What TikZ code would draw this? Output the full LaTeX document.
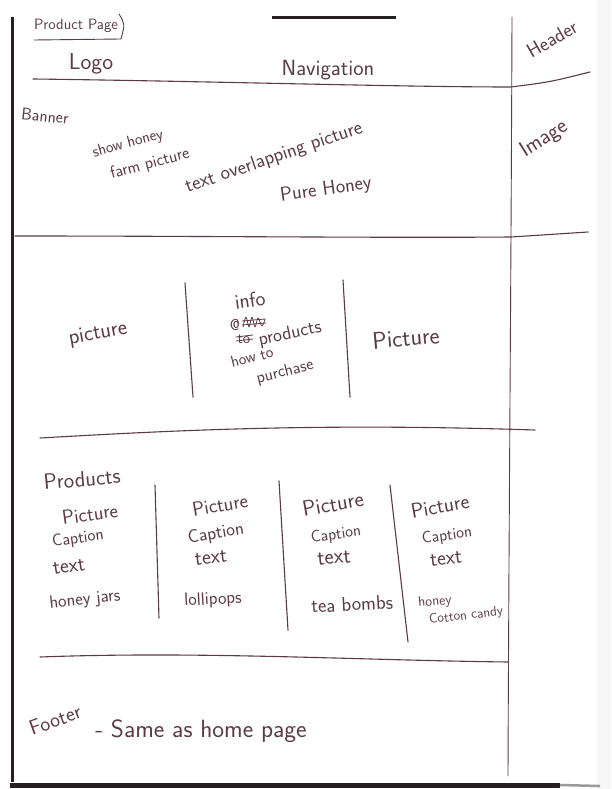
\documentclass[tikz,border=0pt]{standalone}
\usepackage{fontspec}
\definecolor{ink}{RGB}{92,58,70}
\definecolor{paperedge}{RGB}{38,30,34}
\begin{document}
\begin{tikzpicture}[x=1pt,y=-1pt,
  pen/.style={draw=ink, line width=1.1pt, line cap=round, line join=round},
  scribble/.style={draw=ink, line width=0.8pt, line cap=round, line join=round},
  sheetedge/.style={draw=paperedge, line width=3pt},
  hw/.style={text=ink, inner sep=0pt, font=\sffamily\fontsize{#1}{#1}\selectfont},
  hw/.default=16]
\useasboundingbox (0,0) rectangle (611,789);
\fill[white] (0,0) rectangle (611,789);
\fill[gray!7] (597,0) rectangle (611,789);

% edges of the scanned sheet
\coordinate (tl) at (12,17);
\coordinate (bl) at (12,782);
\coordinate (ta) at (272,18);
\coordinate (tb) at (396,18);
\coordinate (ba) at (10,785);
\coordinate (bb) at (560,785);
\coordinate (bc) at (600,786);
\draw[sheetedge] (tl) -- (bl);
\draw[sheetedge] (ta) -- (tb);
\draw[sheetedge, line width=5pt] (ba) -- (bb);
\draw[draw=paperedge!45, line width=2.5pt] (bb) -- (bc);

% page title
\node[hw=15] (title) at (76,26) {Product Page};
\coordinate (u1) at (34,40);
\coordinate (u2) at (121,39);
\coordinate (k1) at (119,14);
\draw[pen, line width=0.9pt] (u1) -- (u2);
\draw[pen, line width=0.9pt] (k1) .. controls (125,24) .. (u2);

% right-hand column divider
\coordinate (r0) at (512,17);
\coordinate (r1) at (508,776);
\draw[pen, line width=0.9pt] (r0) .. controls (511,300) and (509,500) .. (r1);

% header band
\node[hw=23] (logo) at (91,64) {Logo};
\node[hw=22] (nav) at (328,70) {Navigation};
\node[hw=20, rotate=30] (header) at (552,39) {Header};
\coordinate (h0) at (33,79);
\coordinate (h1) at (511,87);
\coordinate (h2) at (590,72);
\draw[pen] (h0) .. controls (200,81) and (400,87) .. (h1) .. controls (550,82) .. (h2);

% banner band
\node[hw=17, rotate=-6] (banner) at (45,116) {Banner};
\node[hw=16, rotate=15] (show) at (128,144) {show honey};
\node[hw=17, rotate=15] (farm) at (150,164) {farm picture};
\node[hw=20, rotate=19] (overlap) at (274,158) {text overlapping picture};
\node[hw=20, rotate=8] (pure) at (326,190) {Pure Honey};
\node[hw=22, rotate=32] (image) at (544,139) {Image};
\coordinate (b0) at (15,236);
\coordinate (b1) at (511,237);
\coordinate (b2) at (588,232);
\draw[pen] (b0) .. controls (200,236) and (380,238) .. (b1) -- (b2);

% info band
\coordinate (v1a) at (185,283);
\coordinate (v1b) at (193,397);
\coordinate (v2a) at (343,280);
\coordinate (v2b) at (350,397);
\draw[pen] (v1a) -- (v1b);
\draw[pen] (v2a) -- (v2b);
\node[hw=22, rotate=10] (picl) at (98,334) {picture};
\node[hw=24, rotate=5] (picr) at (406,338) {Picture};
\node[hw=21, rotate=8] (info) at (250,300) {info};
\node[hw=16] (at) at (235,325) {@};
\draw[scribble] plot[smooth] coordinates {(243,327) (246,317) (249,327) (252,317) (255,327) (258,318) (262,326) (265,319)};
\draw[scribble] (242,321) -- (265,319);
\draw[scribble] (242,325) -- (266,323);
\node[hw=15] (to) at (244,339) {to};
\draw[scribble] (236,337) -- (253,335);
\draw[scribble] (236,341) -- (253,339);
\node[hw=19, rotate=12] (prod) at (290,334) {products};
\node[hw=16, rotate=14] (how) at (252,357) {how to};
\node[hw=17, rotate=14] (purchase) at (285,372) {purchase};
\coordinate (i0) at (40,438);
\coordinate (i1) at (535,430);
\draw[pen] (i0) .. controls (180,430) and (320,423) .. (i1);

% products band
\node[hw=22, rotate=5] (products) at (82,479) {Products};
\coordinate (c1a) at (155,485);
\coordinate (c1b) at (159,618);
\coordinate (c2a) at (279,481);
\coordinate (c2b) at (288,630);
\coordinate (c3a) at (390,485);
\coordinate (c3b) at (408,642);
\draw[pen] (c1a) -- (c1b);
\draw[pen] (c2a) -- (c2b);
\draw[pen] (c3a) -- (c3b);

\node[hw=20, rotate=8] (p1) at (90,514) {Picture};
\node[hw=17, rotate=8] (cap1) at (78,539) {Caption};
\node[hw=21, rotate=8] (t1) at (69,567) {text};
\node[hw=18, rotate=6] (n1) at (85,600) {honey jars};

\node[hw=20, rotate=10] (p2) at (220,505) {Picture};
\node[hw=18.5, rotate=10] (cap2) at (216,534) {Caption};
\node[hw=21, rotate=5] (t2) at (211,558) {text};
\node[hw=18, rotate=3] (n2) at (213,600) {lollipops};

\node[hw=22, rotate=10] (p3) at (333,504) {Picture};
\node[hw=16.5, rotate=8] (cap3) at (336,535) {Caption};
\node[hw=22, rotate=5] (t3) at (334,558) {text};
\node[hw=20, rotate=3] (n3) at (352,604) {tea bombs};

\node[hw=21, rotate=10] (p4) at (440,506) {Picture};
\node[hw=16.5, rotate=8] (cap4) at (447,536) {Caption};
\node[hw=21, rotate=5] (t4) at (446,559) {text};
\node[hw=14, rotate=5] (n4a) at (435,602) {honey};
\node[hw=13.5, rotate=7] (n4b) at (466,616) {Cotton candy};

\coordinate (f0) at (40,657);
\coordinate (f1) at (508,662);
\draw[pen] (f0) .. controls (200,651) and (350,660) .. (f1);

% footer band
\node[hw=21, rotate=20] (footer) at (55,720) {Footer};
\node[hw=25] (same) at (201,731) {- Same as home page};
\end{tikzpicture}
\end{document}
